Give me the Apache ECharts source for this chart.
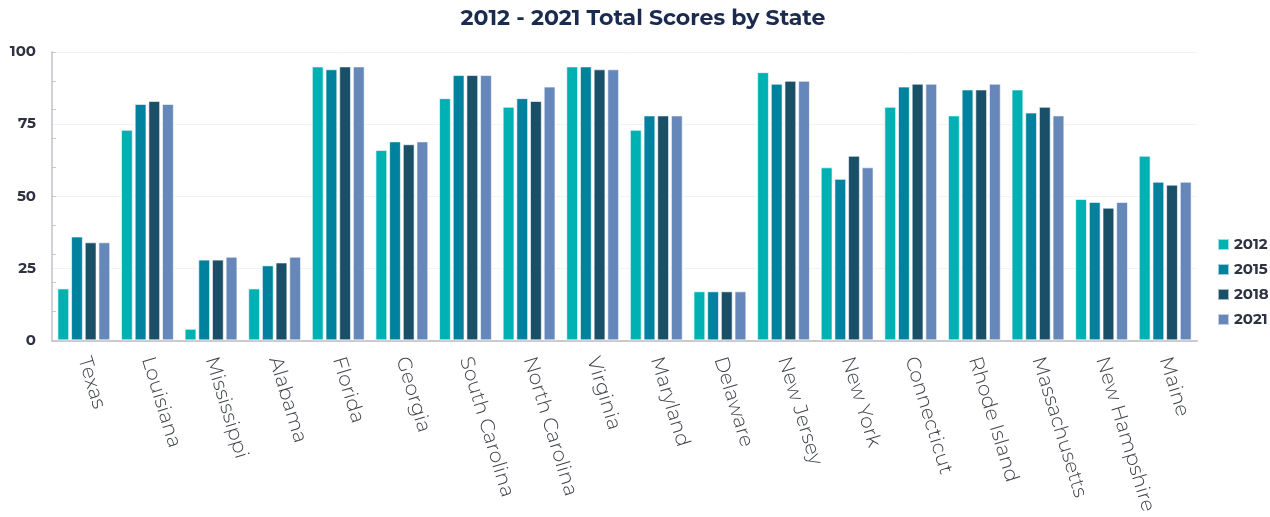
<!DOCTYPE html>
<html>
<head>
<meta charset="utf-8">
<script src="https://cdn.jsdelivr.net/npm/echarts@6/dist/echarts.min.js"></script>
<style>
  html, body { margin: 0; padding: 0; background: #fff; }
  #chart { width: 1270px; height: 517px; }
</style>
</head>
<body>
<div id="chart"></div>
<script>
const states = ["Texas", "Louisiana", "Mississippi", "Alabama", "Florida", "Georgia",
  "South Carolina", "North Carolina", "Virginia", "Maryland", "Delaware", "New Jersey",
  "New York", "Connecticut", "Rhode Island", "Massachusetts", "New Hampshire", "Maine"];
const years = ["2012", "2015", "2018", "2021"];
const scores2012 = [18, 73, 4, 18, 95, 66, 84, 81, 95, 73, 17, 93, 60, 81, 78, 87, 49, 64];
const scores2015 = [36, 82, 28, 26, 94, 69, 92, 84, 95, 78, 17, 89, 56, 88, 87, 79, 48, 55];
const scores2018 = [34, 83, 28, 27, 95, 68, 92, 83, 94, 78, 17, 90, 64, 89, 87, 81, 46, 54];
const scores2021 = [34, 82, 29, 29, 95, 69, 92, 88, 94, 78, 17, 90, 60, 89, 89, 78, 48, 55];
const colors = ["#00b1b4", "#00829f", "#1a4f68", "#6587b9"];

const font = "Montserrat, Lato, 'Open Sans', sans-serif";
const chart = echarts.init(document.getElementById("chart"));

const seriesData = [scores2012, scores2015, scores2018, scores2021];
const series = years.map((y, i) => ({
  name: y,
  type: "bar",
  data: seriesData[i],
  barGap: "16%",
  barCategoryGap: "17%",
  itemStyle: { color: colors[i], borderColor: "rgba(255,255,255,0.6)", borderWidth: 1 }
}));

chart.setOption({
  animation: false,
  color: colors,
  title: {
    text: "2012 - 2021 Total Scores by State",
    left: 638,
    textAlign: "center",
    top: 3,
    textStyle: { fontFamily: font, fontSize: 22, fontWeight: "bold", color: "#1b2b4f" }
  },
  legend: {
    orient: "vertical",
    left: 1212,
    top: 232,
    itemWidth: 11,
    itemHeight: 11,
    itemGap: 10,
    icon: "rect",
    textStyle: { fontFamily: font, fontSize: 15, fontWeight: "bold", color: "#2d3340" },
    data: years
  },
  grid: { left: 52, right: 73, top: 52, bottom: 175, containLabel: false },
  xAxis: {
    type: "category",
    data: states,
    axisLine: { lineStyle: { color: "#c8c8d0", width: 2 } },
    axisTick: { show: false },
    axisLabel: {
      rotate: -73,
      interval: 0,
      margin: 17,
      fontFamily: font,
      fontSize: 20,
      fontWeight: 300,
      color: "#3f424a"
    }
  },
  yAxis: [
    {
      type: "value",
      min: 0,
      max: 100,
      interval: 25,
      axisLine: { show: true, lineStyle: { color: "#d0d0d8", width: 2 } },
      axisTick: { show: false },
      splitLine: { lineStyle: { color: "#f3f3f5" } },
      axisLabel: { fontFamily: font, fontSize: 15, fontWeight: "bold", color: "#2d3340", margin: 16 }
    },
    {
      type: "value",
      position: "left",
      min: 0,
      max: 100,
      interval: 10,
      axisLine: { show: false },
      axisTick: { show: true, length: 4, inside: true, lineStyle: { color: "#c8c8d0" } },
      splitLine: { show: false },
      axisLabel: { show: false }
    }
  ],
  series: series
});
</script>
</body>
</html>
